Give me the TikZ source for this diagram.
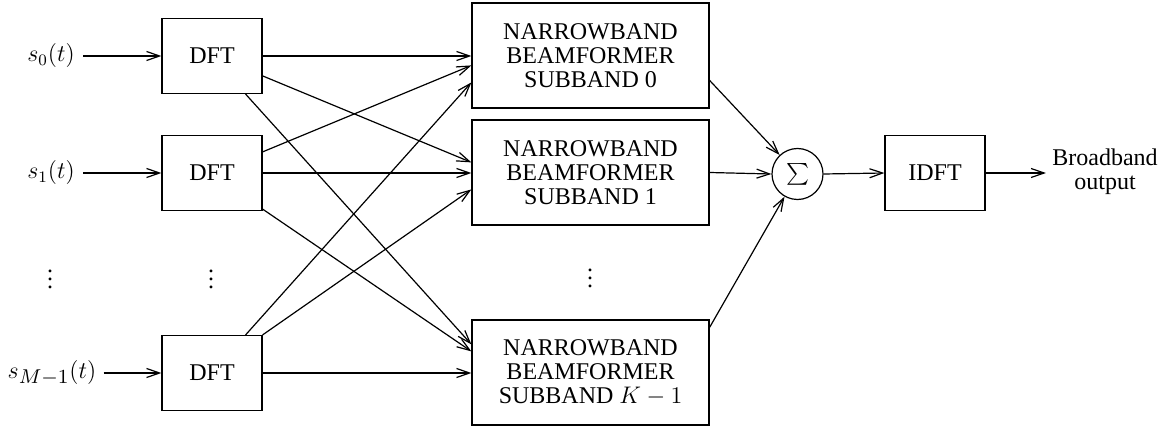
\documentclass[tikz,border=0pt]{standalone}
\usepackage{amsmath}
\usepackage[no-math]{fontspec}
\setmainfont{Liberation Serif}
\usetikzlibrary{arrows.meta,calc}
\begin{document}
\begin{tikzpicture}[x=0.5pt,y=-0.5pt,
  box/.style={draw,line width=0.6pt,inner sep=0pt},
  dftbox/.style={box,minimum width=50pt,minimum height=37.5pt},
  nbbox/.style={box,minimum width=118.5pt,minimum height=52.5pt,align=center},
  conn/.style={line width=0.6pt,-{Straight Barb[length=6.5pt,width=4.5pt]}},
  lbl/.style={inner sep=4pt},
  font=\fontsize{12}{12}\selectfont]
\useasboundingbox (0,0) rectangle (1171,427);
% inputs
\node[lbl] (in0) at (51,56) {$s_0(t)$};
\node[lbl] (in1) at (51,173) {$s_1(t)$};
\node[lbl,inner sep=3.5pt] (in2) at (52,373) {$s_{\raisebox{0pt}{\scalebox{1.25}{$\scriptstyle M-1$}}}(t)$};
% DFT boxes
\node[dftbox] (dft0) at (212,56) {DFT};
\node[dftbox] (dft1) at (212,173) {DFT};
\node[dftbox] (dft2) at (212,373) {DFT};
% beamformers
\node[nbbox] (nb0) at (590.5,55.5) {NARROWBAND\\BEAMFORMER\\SUBBAND 0};
\node[nbbox] (nb1) at (590.5,172.5) {NARROWBAND\\BEAMFORMER\\SUBBAND 1};
\node[nbbox] (nbK) at (590.5,372.5) {NARROWBAND\\BEAMFORMER\\SUBBAND $K-1$};
% dots
\node (d0) at (50,273) {$\vdots$};
\node (d1) at (211,273) {$\vdots$};
\node (d2) at (590,272) {$\vdots$};
% sum, IDFT, output
\node[draw,circle,line width=0.6pt,inner sep=0pt,minimum size=25.5pt] (sig) at (797.5,174) {\resizebox{11.5pt}{!}{$\sum$}};
\node[dftbox] (idft) at (935,173) {IDFT};
\node[align=center,inner sep=3pt] (out) at (1105,172) {Broadband\\output};
% input arrows
\draw[conn] (in0) -- (dft0);
\draw[conn] (in1) -- (dft1);
\draw[conn] (in2) -- (dft2);
% DFT to beamformers
\draw[conn] (dft0.east) -- (dft0.east -| nb0.west);
\draw[conn] ($(dft0.north east)+(0,58)$) -- ($(nb1.north west)+(0,43)$);
\draw[conn] ($(dft0.south east)+(-17,0)$) -- ($(nbK.north west)+(0,25)$);
\draw[conn] ($(dft1.north east)+(0,17)$) -- ($(nb0.north west)+(0,63)$);
\draw[conn] (dft1.east) -- (dft1.east -| nb1.west);
\draw[conn] ($(dft1.south east)+(0,-2)$) -- ($(nbK.north west)+(0,32)$);
\draw[conn] ($(dft2.north east)+(-17,0)$) -- ($(nb0.north west)+(0,80)$);
\draw[conn] (dft2.north east) -- ($(nb1.north west)+(0,70)$);
\draw[conn] (dft2.east) -- (dft2.east -| nbK.west);
% beamformers to sum
\draw[conn] ($(nb0.north east)+(0,78)$) -- (sig);
\draw[conn] (nb1.east) -- (sig.west);
\draw[conn] ($(nbK.north east)+(0,8)$) -- (sig);
% sum to IDFT to output
\draw[conn] (sig.east) -- (idft.west);
\draw[conn] (idft.east) -- (idft.east -| out.west);
\end{tikzpicture}
\end{document}
